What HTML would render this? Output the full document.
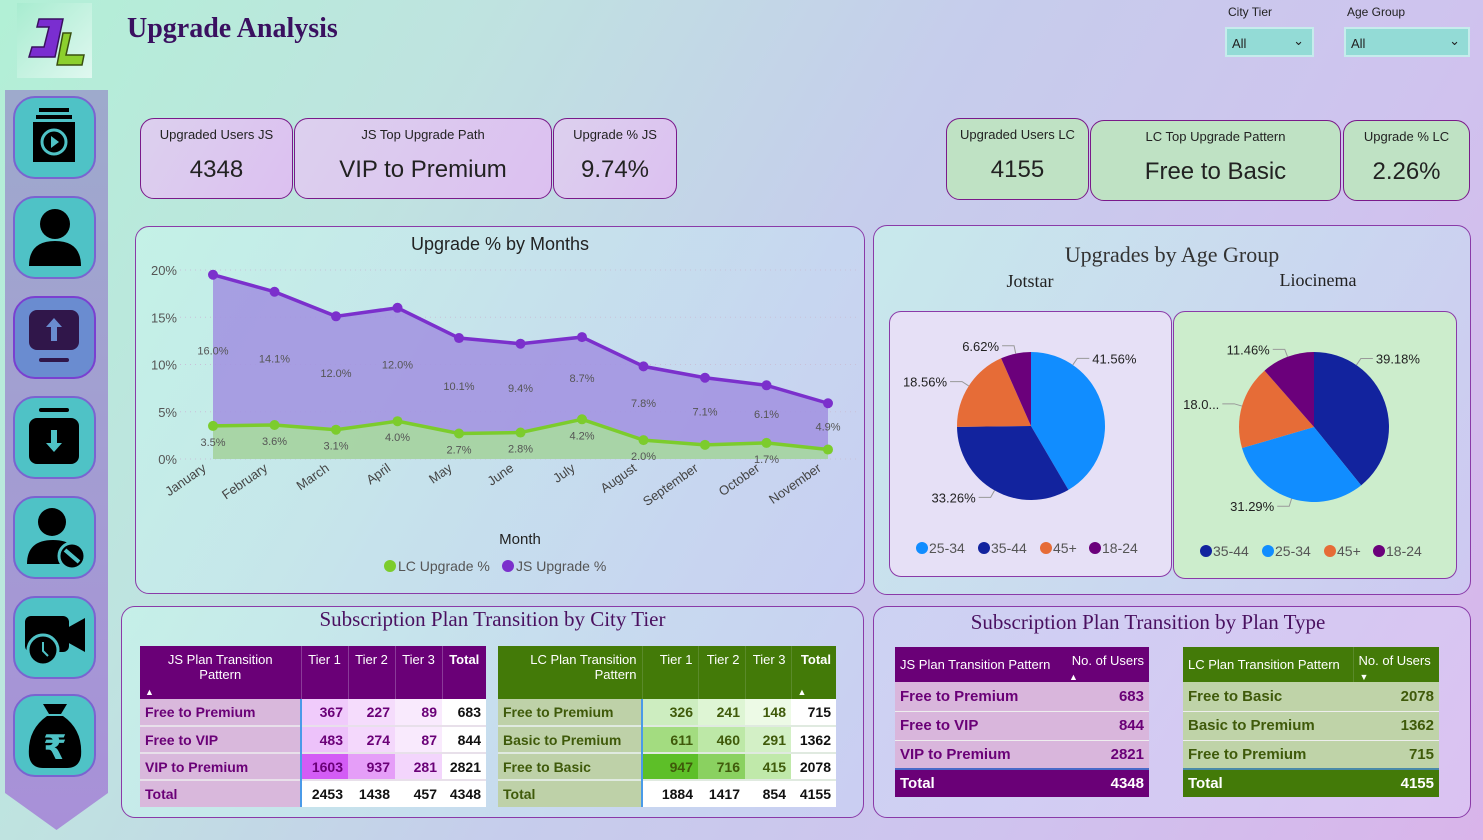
<!DOCTYPE html>
<html><head><meta charset="utf-8">
<style>
*{box-sizing:border-box;margin:0;padding:0}
body{width:1483px;height:840px;overflow:hidden;position:relative;font-family:"Liberation Sans",sans-serif;
background:linear-gradient(120deg,#b2f0d6 0%,#bfe3e0 25%,#c6cdec 50%,#cfc3ee 75%,#d9b4ea 100%);}
.abs{position:absolute}
.panel{position:absolute;border:1.5px solid #8a3aa8;border-radius:14px;background:linear-gradient(120deg,rgba(200,245,235,.7),rgba(200,210,245,.6))}
.kpi{position:absolute;border:1.5px solid #7a1a8a;border-radius:14px;text-align:center;color:#222}
.kpi .t{font-size:13px;margin-top:8px}
.kpi .v{font-size:24px;margin-top:14px}
.js{background:linear-gradient(120deg,#dcd0ee,#dcc0f0)}
.lc{background:#bfe2c4}
.ttl{font-family:"Liberation Serif",serif;color:#4a1060;text-align:center;position:absolute}
table{border-collapse:collapse;position:absolute;font-size:13px}
td,th{padding:0 5px;height:27px}
.btn{position:absolute;left:13px;width:83px;height:83px;border-radius:22px;background:#4fc2c6;border:2px solid #7a64d0}
.sl{position:absolute;background:#93dbd6;border:2px solid #c6ecec;font-size:13px;color:#222;padding:7px 5px}
.sl span{position:absolute;right:8px;top:4px}
</style></head><body>
<div class="abs" style="left:17px;top:3px;width:75px;height:75px;background:linear-gradient(135deg,#a8ecd0,#e0f8f0)">
<svg width="75" height="75"><path d="M22 16h24l-8 38H12l3-10h12l5-20h-12z" fill="#7a2ed0" stroke="#3a1060" stroke-width="1.5"/><path d="M46 30h8l-5 22h18l-2 10H40z" fill="#8ccf2e" stroke="#3a5010" stroke-width="1.5"/></svg></div>
<div class="abs" style="left:127px;top:13px;font-family:'Liberation Serif',serif;font-size:28px;font-weight:bold;color:#3a1060">Upgrade Analysis</div>

<div class="abs" style="left:5px;top:90px;width:103px;height:740px;background:linear-gradient(#9eaacc,#a890d8);clip-path:polygon(0 0,100% 0,100% 95%,50% 100%,0 95%)"></div>
<div class="btn" style="top:96px"><svg width="79" height="79"><rect x="24" y="10" width="30" height="4"/><rect x="21" y="17" width="36" height="4"/><rect x="18" y="24" width="42" height="40"/><circle cx="39" cy="44" r="12" fill="none" stroke="#4fc2c6" stroke-width="3"/><path d="M36 38l8 6-8 6z" fill="#4fc2c6"/></svg></div>
<div class="btn" style="top:196px"><svg width="79" height="79"><circle cx="40" cy="26" r="15"/><path d="M14 68q0-25 26-25t26 25z"/></svg></div>
<div class="btn" style="top:296px;background:#6a8cd0;border-color:#7a40d0"><svg width="79" height="79"><rect x="14" y="12" width="50" height="40" rx="8" fill="#30164a"/><rect x="24" y="60" width="30" height="4" rx="2" fill="#30164a"/><path d="M39 20l-8 9h5v14h6V29h5z" fill="#6a8cd0"/></svg></div>
<div class="btn" style="top:396px"><svg width="79" height="79"><rect x="24" y="10" width="30" height="4" rx="2"/><rect x="14" y="20" width="50" height="46" rx="8"/><path d="M39 54l-8-9h5V32h6v13h5z" fill="#4fc2c6"/></svg></div>
<div class="btn" style="top:496px"><svg width="79" height="79"><circle cx="37" cy="24" r="14"/><path d="M12 66q0-24 26-24t26 24z"/><circle cx="57" cy="58" r="13" stroke="#4fc2c6" stroke-width="3"/><path d="M50 52l14 12" stroke="#4fc2c6" stroke-width="4"/></svg></div>
<div class="btn" style="top:596px"><svg width="79" height="79"><rect x="10" y="18" width="44" height="36" rx="6"/><path d="M52 30l18-10v34l-18-10z"/><circle cx="28" cy="52" r="15" stroke="#4fc2c6" stroke-width="3"/><path d="M28 44v9l5 5" stroke="#4fc2c6" stroke-width="2" fill="none"/></svg></div>
<div class="btn" style="top:694px"><svg width="79" height="79"><path d="M28 8h24l-6 10h-12z"/><path d="M32 20h16q20 14 18 40q-2 12-14 12H28Q16 72 14 60q-2-26 18-40z"/><text x="40" y="63" text-anchor="middle" font-size="34" font-weight="bold" fill="#4fc2c6" font-family="DejaVu Sans">₹</text></svg></div>

<div class="abs" style="left:1228px;top:5px;font-size:12px;color:#222">City Tier</div>
<div class="sl" style="left:1225px;top:27px;width:89px;height:30px">All<span>&#8964;</span></div>
<div class="abs" style="left:1347px;top:5px;font-size:12px;color:#222">Age Group</div>
<div class="sl" style="left:1344px;top:27px;width:126px;height:30px">All<span>&#8964;</span></div>

<div class="kpi js" style="left:140px;top:118px;width:153px;height:81px"><div class="t">Upgraded Users JS</div><div class="v">4348</div></div>
<div class="kpi js" style="left:294px;top:118px;width:258px;height:81px"><div class="t">JS Top Upgrade Path</div><div class="v">VIP to Premium</div></div>
<div class="kpi js" style="left:553px;top:118px;width:124px;height:81px"><div class="t">Upgrade % JS</div><div class="v">9.74%</div></div>
<div class="kpi lc" style="left:946px;top:118px;width:143px;height:82px"><div class="t">Upgraded Users LC</div><div class="v">4155</div></div>
<div class="kpi lc" style="left:1090px;top:120px;width:251px;height:81px"><div class="t">LC Top Upgrade Pattern</div><div class="v">Free to Basic</div></div>
<div class="kpi lc" style="left:1343px;top:120px;width:127px;height:81px"><div class="t">Upgrade % LC</div><div class="v">2.26%</div></div>

<div class="panel" style="left:135px;top:226px;width:730px;height:368px"></div>
<svg id="lc" class="abs" style="left:0;top:0" width="1483" height="840">
<text x="500" y="250" text-anchor="middle" font-size="18" fill="#222">Upgrade % by Months</text>
<text x="520" y="544" text-anchor="middle" font-size="15" fill="#222">Month</text>
<g><circle cx="390" cy="566" r="6" fill="#7ccc2c"/><text x="398" y="571" font-size="14" fill="#555">LC Upgrade %</text>
<circle cx="508" cy="566" r="6" fill="#7b30cc"/><text x="516" y="571" font-size="14" fill="#555">JS Upgrade %</text></g>
</svg>

<div class="panel" style="left:873px;top:225px;width:598px;height:370px"></div>
<div class="ttl" style="left:873px;top:242px;width:598px;font-size:22px;color:#333">Upgrades by Age Group</div>
<div class="ttl" style="left:960px;top:271px;width:140px;font-size:18px;color:#222">Jotstar</div>
<div class="ttl" style="left:1248px;top:270px;width:140px;font-size:18px;color:#222">Liocinema</div>
<div class="abs" style="left:889px;top:311px;width:283px;height:266px;background:#e6e0f6;border:1.5px solid #8a3aa8;border-radius:12px"></div>
<div class="abs" style="left:1173px;top:311px;width:284px;height:268px;background:#ccedcc;border:1.5px solid #8a3aa8;border-radius:12px"></div>
<svg id="pies" class="abs" style="left:0;top:0" width="1483" height="840"></svg>

<div class="panel" style="left:121px;top:606px;width:743px;height:212px"></div>
<div class="ttl" style="left:121px;top:607px;width:743px;font-size:21px">Subscription Plan Transition by City Tier</div>
<table style="left:140px;top:646px;width:346px;color:#6a0077;font-weight:bold;font-size:14px">
<tr style="background:#6a0077;color:#fff;font-weight:normal;height:53px;vertical-align:top;font-size:13px"><th style="width:161px;font-weight:normal;padding-top:6px;position:relative">JS Plan Transition<br>Pattern<span style="position:absolute;left:5px;bottom:2px;font-size:9px">▲</span></th><th style="width:47px;font-weight:normal;padding-top:6px;border-left:1px solid #8a3a98">Tier 1</th><th style="width:47px;font-weight:normal;padding-top:6px;border-left:1px solid #8a3a98">Tier 2</th><th style="width:47px;font-weight:normal;padding-top:6px;border-left:1px solid #8a3a98">Tier 3</th><th style="padding-top:6px;border-left:1px solid #8a3a98">Total</th></tr>
<tr style="text-align:right"><td style="background:#d9b8dc;text-align:left;border-right:2px solid #4a9ae8">Free to Premium</td><td style="background:#f0cbfb">367</td><td style="background:#f5dcfc">227</td><td style="background:#f9eafd">89</td><td style="background:#fff;color:#111">683</td></tr>
<tr style="text-align:right;border-top:2px solid #e8e0ea"><td style="background:#d9b8dc;text-align:left;border-right:2px solid #4a9ae8">Free to VIP</td><td style="background:#edc2fa">483</td><td style="background:#f4d8fc">274</td><td style="background:#f9eafd">87</td><td style="background:#fff;color:#111">844</td></tr>
<tr style="text-align:right;border-top:2px solid #e8e0ea"><td style="background:#d9b8dc;text-align:left;border-right:2px solid #4a9ae8">VIP to Premium</td><td style="background:#d35cf5">1603</td><td style="background:#e59ef8">937</td><td style="background:#f3d5fc">281</td><td style="background:#fff;color:#111">2821</td></tr>
<tr style="text-align:right;border-top:2px solid #e8e0ea;color:#111;background:#fff"><td style="background:#d9b8dc;text-align:left;color:#6a0077;border-right:2px solid #4a9ae8">Total</td><td>2453</td><td>1438</td><td>457</td><td>4348</td></tr>
</table>
<table style="left:498px;top:646px;width:338px;color:#3f5a0a;font-weight:bold;font-size:14px">
<tr style="background:#437a08;color:#fff;height:53px;vertical-align:top;text-align:right;font-size:13px"><th style="width:144px;font-weight:normal;padding-top:6px">LC Plan Transition<br>Pattern</th><th style="width:56px;font-weight:normal;padding-top:6px;border-left:1px solid #5a8a2a">Tier 1</th><th style="width:47px;font-weight:normal;padding-top:6px;border-left:1px solid #5a8a2a">Tier 2</th><th style="width:46px;font-weight:normal;padding-top:6px;border-left:1px solid #5a8a2a">Tier 3</th><th style="padding-top:6px;border-left:1px solid #5a8a2a;position:relative">Total<span style="position:absolute;left:6px;bottom:2px;font-size:9px">▲</span></th></tr>
<tr style="text-align:right"><td style="background:#bed1a8;text-align:left;border-right:2px solid #4a9ae8">Free to Premium</td><td style="background:#cdedc0">326</td><td style="background:#def5d4">241</td><td style="background:#edfae6">148</td><td style="background:#fff;color:#111">715</td></tr>
<tr style="text-align:right;border-top:2px solid #e0eae0"><td style="background:#bed1a8;text-align:left;border-right:2px solid #4a9ae8">Basic to Premium</td><td style="background:#a3dc80">611</td><td style="background:#bde8a7">460</td><td style="background:#d3f0c6">291</td><td style="background:#fff;color:#111">1362</td></tr>
<tr style="text-align:right;border-top:2px solid #e0eae0"><td style="background:#bed1a8;text-align:left;border-right:2px solid #4a9ae8">Free to Basic</td><td style="background:#5dbf28">947</td><td style="background:#8ad160">716</td><td style="background:#c0e9aa">415</td><td style="background:#fff;color:#111">2078</td></tr>
<tr style="text-align:right;border-top:2px solid #e0eae0;color:#111;background:#fff"><td style="background:#bed1a8;text-align:left;color:#3f5a0a;border-right:2px solid #4a9ae8">Total</td><td>1884</td><td>1417</td><td>854</td><td>4155</td></tr>
</table>

<div class="panel" style="left:873px;top:606px;width:598px;height:212px;background:linear-gradient(120deg,rgba(205,215,245,.7),rgba(220,200,245,.7))"></div>
<div class="ttl" style="left:873px;top:610px;width:550px;font-size:21px">Subscription Plan Transition by Plan Type</div>
<table style="left:895px;top:647px;width:254px;font-size:15px;color:#6a0077;font-weight:bold">
<tr style="background:#6a0077;color:#fff;height:35px"><th style="font-weight:normal;text-align:left;font-size:13px;width:168px">JS Plan Transition Pattern</th><th style="font-weight:normal;font-size:13px;position:relative;vertical-align:top;padding-top:6px;text-align:right">No. of Users<span style="position:absolute;left:6px;bottom:0;font-size:9px">▲</span></th></tr>
<tr style="background:#d9b6dc;height:29px"><td>Free to Premium</td><td style="text-align:right">683</td></tr>
<tr style="background:#d9b6dc;height:29px;border-top:1px solid #eee"><td>Free to VIP</td><td style="text-align:right">844</td></tr>
<tr style="background:#d9b6dc;height:29px;border-top:1px solid #eee"><td>VIP to Premium</td><td style="text-align:right">2821</td></tr>
<tr style="background:#6a0077;color:#fff;height:28px;border-top:2px solid #4a6ac8"><td>Total</td><td style="text-align:right">4348</td></tr>
</table>
<table style="left:1183px;top:647px;width:256px;font-size:15px;color:#3f5a0a;font-weight:bold">
<tr style="background:#437a08;color:#fff;height:35px"><th style="font-weight:normal;text-align:left;font-size:13px;width:170px">LC Plan Transition Pattern</th><th style="font-weight:normal;font-size:13px;position:relative;vertical-align:top;padding-top:6px;text-align:left;border-left:1px solid #5a8a2a">No. of Users<span style="position:absolute;left:6px;bottom:0;font-size:9px">▼</span></th></tr>
<tr style="background:#bfd3a8;height:29px"><td>Free to Basic</td><td style="text-align:right">2078</td></tr>
<tr style="background:#bfd3a8;height:29px;border-top:1px solid #eee"><td>Basic to Premium</td><td style="text-align:right">1362</td></tr>
<tr style="background:#bfd3a8;height:29px;border-top:1px solid #eee"><td>Free to Premium</td><td style="text-align:right">715</td></tr>
<tr style="background:#437a08;color:#fff;height:28px;border-top:2px solid #4a8aa8"><td>Total</td><td style="text-align:right">4155</td></tr>
</table>

<script>
const months=["January","February","March","April","May","June","July","August","September","October","November"];
const lcValues=[3.5,3.6,3.1,4.0,2.7,2.8,4.2,2.0,1.5,1.7,1.0];
const jsValues=[16.0,14.1,12.0,12.0,10.1,9.4,8.7,7.8,7.1,6.1,4.9];
const lcLabels=["3.5%","3.6%","3.1%","4.0%","2.7%","2.8%","4.2%","2.0%","","1.7%",""];
const yTicks=[0,5,10,15,20];
const jsAges=["25-34","35-44","45+","18-24"];
const jsShares=[41.56,33.26,18.56,6.62];
const lcAges=["35-44","25-34","45+","18-24"];
const lcShares=[39.18,31.29,18.07,11.46];
const ageColors={"25-34":"#118dff","35-44":"#12239e","45+":"#e66c37","18-24":"#6b007b"};

const NS="http://www.w3.org/2000/svg";
function mk(p,tag,at,txt){const e=document.createElementNS(NS,tag);for(const k in at)e.setAttribute(k,at[k]);if(txt!==undefined)e.textContent=txt;p.appendChild(e);return e;}
const svg=document.getElementById('lc');
const X=i=>213+i*(828-213)/(months.length-1);
const Y=v=>459-v*(459-270)/20;
yTicks.forEach(t=>{
 const g=mk(svg,'line',{x1:180,x2:860,y1:Y(t),y2:Y(t),stroke:'#c8c0d8','stroke-dasharray':'1 4'});
 
 
 const l=mk(svg,'text',{x:177,y:Y(t)+5,'text-anchor':'end','font-size':13,fill:'#555'},t+'%');
 
 
});
const tops=lcValues.map((v,i)=>v+jsValues[i]);
let jsA='M'+X(0)+' '+Y(0);tops.forEach((v,i)=>jsA+=' L'+X(i)+' '+Y(v));jsA+=' L'+X(months.length-1)+' '+Y(0)+'Z';
const a1=mk(svg,'path',{d:jsA,fill:'#a190e0',opacity:.85});


let lcA='M'+X(0)+' '+Y(0);lcValues.forEach((v,i)=>lcA+=' L'+X(i)+' '+Y(v));lcA+=' L'+X(months.length-1)+' '+Y(0)+'Z';
const a2=mk(svg,'path',{d:lcA,fill:'#a8daa0',opacity:.9});


const jl=mk(svg,'polyline',{points:tops.map((v,i)=>X(i)+','+Y(v)).join(' '),fill:'none',stroke:'#7b30cc','stroke-width':3.5});


const ll=mk(svg,'polyline',{points:lcValues.map((v,i)=>X(i)+','+Y(v)).join(' '),fill:'none',stroke:'#7ccc2c','stroke-width':3.5});


months.forEach((m,i)=>{
 const p1=mk(svg,'circle',{cx:X(i),cy:Y(tops[i]),r:5,fill:'#7b30cc'});
 
 
 const p2=mk(svg,'circle',{cx:X(i),cy:Y(lcValues[i]),r:5,fill:'#7ccc2c'});
 
 
 const t1=mk(svg,'text',{x:X(i),y:Y(lcValues[i]+jsValues[i]/2)+4,'text-anchor':'middle','font-size':11,fill:'#555'},jsValues[i].toFixed(1)+'%');
 
 
 const t2=mk(svg,'text',{x:X(i),y:Y(lcValues[i])+20,'text-anchor':'middle','font-size':11,fill:'#555'},lcLabels[i]);
 
 
 const xl=mk(svg,'text',{x:X(i)-6,y:470,'text-anchor':'end','font-size':13,fill:'#444',transform:`rotate(-35 ${X(i)-6} 470)`},m);
 
 
});

const ps=document.getElementById('pies');
function pie(cx,cy,r,ages,shares,labels,legX,legY){
 let a=-Math.PI/2;const tot=shares.reduce((s,v)=>s+v,0);
 ages.forEach((ag,i)=>{
  const sw=shares[i]/tot*2*Math.PI,b=a+sw;
  const x1=cx+r*Math.cos(a),y1=cy+r*Math.sin(a),x2=cx+r*Math.cos(b),y2=cy+r*Math.sin(b);
  const s=mk(ps,'path',{d:`M${cx} ${cy}L${x1} ${y1}A${r} ${r} 0 ${sw>Math.PI?1:0} 1 ${x2} ${y2}Z`,fill:ageColors[ag]});
  
  
  let m=(a+b)/2;
  if(i===0) m=a+Math.min(sw/2,0.6);
  const ex=cx+(r+8)*Math.cos(m),ey=cy+(r+8)*Math.sin(m),right=Math.cos(m)>=0;
  const lx=ex+(right?12:-12);
  mk(ps,'polyline',{points:`${cx+r*Math.cos(m)},${cy+r*Math.sin(m)} ${ex},${ey} ${lx},${ey}`,fill:'none',stroke:'#999'});
  const t=mk(ps,'text',{x:lx+(right?3:-3),y:ey+5,'text-anchor':right?'start':'end','font-size':13,fill:'#222'},labels[i]);
  
  
  a=b;
 });
 let x=legX;
 ages.forEach(ag=>{
  mk(ps,'circle',{cx:x,cy:legY,r:6,fill:ageColors[ag]});
  const t=mk(ps,'text',{x:x+7,y:legY+5,'font-size':14,fill:'#555'},ag);
  
  
  x+=ag.length>3?62:49;
 });
}
pie(1031,426,74,jsAges,jsShares,jsShares.map(v=>v.toFixed(2)+'%'),922,548);
pie(1314,427,75,lcAges,lcShares,lcShares.map(v=>v===18.07?'18.0...':v.toFixed(2)+'%'),1206,551);
</script>
</body></html>
